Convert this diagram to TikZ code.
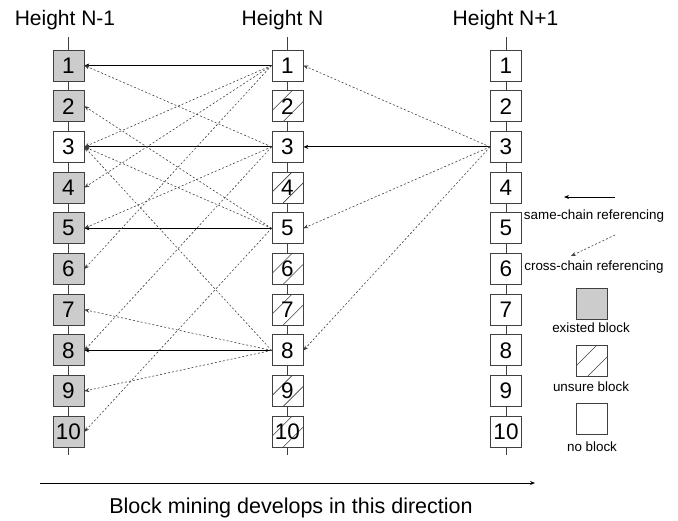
\documentclass[tikz,border=0pt]{standalone}
\usepackage{fontspec}
\setmainfont{Liberation Sans}
\usetikzlibrary{arrows.meta,calc}
\begin{document}
\begin{tikzpicture}[x=1pt,y=1pt,
 blk/.style={draw=black!75, line width=0.8pt, minimum size=31pt, inner sep=0pt, fill=white, font=\fontsize{22.5}{22.5}\selectfont},
 noblk/.style={blk},
 existed/.style={blk, fill=black!20},
 unsure/.style={blk, path picture={
   \draw[line width=0.6pt] ($(path picture bounding box.south west)+(0,11)$) -- ($(path picture bounding box.north west)+(20,0)$);
   \draw[line width=0.6pt] ($(path picture bounding box.south west)+(11,0)$) -- ($(path picture bounding box.north east)+(0,-11)$);
 }},
 chain/.style={draw=black!75, line width=0.8pt},
 same/.style={-{Stealth[length=5pt,width=4pt]}, line width=0.8pt},
 cross/.style={-{Stealth[length=5pt,width=4pt]}, line width=0.6pt, dash pattern=on 2pt off 2pt, draw=black!75},
 lbl/.style={font=\fontsize{13.4}{14}\selectfont},
 head/.style={font=\fontsize{21}{21}\selectfont, anchor=base}]

\useasboundingbox (0,0) rectangle (678,-521);

% headings
\node[head] (hL) at (65,-26) {Height N-1};
\node[head] (hM) at (282.5,-26) {Height N};
\node[head] (hR) at (505.5,-26) {Height N+1};

% chain lines
\foreach \c/\x in {L/68.5,M/287.5,R/506} {
  \coordinate (\c top) at (\x,-37);
  \coordinate (\c bot) at (\x,-455);
  \draw[chain] (\c top) -- (\c bot);
}

% blocks
\foreach \k/\st in {1/existed,2/existed,3/noblk,4/existed,5/existed,6/existed,7/existed,8/existed,9/existed,10/existed}
  \node[\st] (L\k) at (68.5,{-65.5-(\k-1)*40.7}) {\k};
\foreach \k/\st in {1/noblk,2/unsure,3/noblk,4/unsure,5/noblk,6/unsure,7/unsure,8/noblk,9/unsure,10/unsure}
  \node[\st] (M\k) at (287.5,{-65.5-(\k-1)*40.7}) {\k};
\foreach \k in {1,...,10}
  \node[noblk] (R\k) at (506,{-65.5-(\k-1)*40.7}) {\k};

% same-chain references
\foreach \k in {1,3,5,8}
  \draw[same] (M\k.west) -- (L\k.east);
\draw[same] (R3.west) -- (M3.east);

% cross-chain references
\foreach \a/\b in {3/1,5/2,1/3,5/3,8/3,1/4,3/5,1/6,8/7,3/8,8/9,5/10}
  \draw[cross] (M\a.west) -- (L\b.east);
\foreach \b in {1,5,8}
  \draw[cross] (R3.west) -- (M\b.east);

% legend
\coordinate (s1) at (615,-197); \coordinate (s2) at (564,-197);
\draw[same] (s1) -- (s2);
\node[lbl] (ls) at (594,-216) {same-chain referencing};
\coordinate (c1) at (615,-235); \coordinate (c2) at (571,-256);
\draw[cross] (c1) -- (c2);
\node[lbl] (lc) at (594,-267) {cross-chain referencing};
\node[existed] (lgE) at (592,-304) {};
\node[lbl] (lE) at (591,-328) {existed block};
\node[unsure] (lgU) at (592,-361) {};
\node[lbl] (lU) at (591,-387) {unsure block};
\node[noblk] (lgN) at (592,-419) {};
\node[lbl] (lN) at (592,-447) {no block};

% direction arrow
\coordinate (a1) at (40,-483); \coordinate (a2) at (535,-483);
\draw[same] (a1) -- (a2);
\node[font=\fontsize{21.5}{21.5}\selectfont] (dir) at (291,-508) {Block mining develops in this direction};
\end{tikzpicture}
\end{document}
